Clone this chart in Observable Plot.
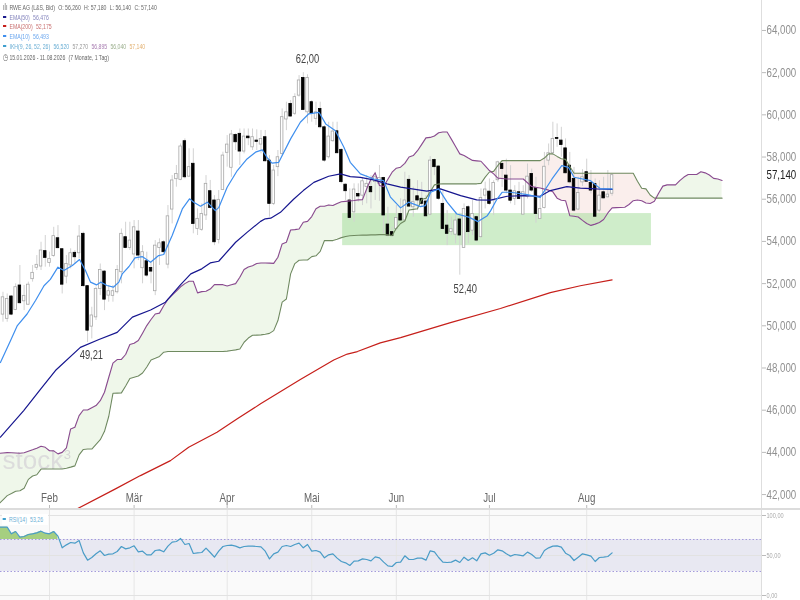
<!DOCTYPE html>
<html><head><meta charset="utf-8">
<script src="https://cdn.jsdelivr.net/npm/d3@7"></script>
<script src="https://cdn.jsdelivr.net/npm/@observablehq/plot@0.6"></script>
<style>
html,body{margin:0;padding:0;background:#fff;overflow:hidden}
#root{position:relative;width:800px;height:600px;overflow:hidden;filter:blur(0.3px)}
#root svg{position:absolute;left:0}
.row{position:absolute;left:3px;font:8px/10px "Liberation Sans",sans-serif;white-space:nowrap;color:#666;transform:scaleX(.645);transform-origin:0 0}
.row span{margin-right:5px}
.k{display:inline-block;width:5px;height:2px;margin:0 5px 2px 0;vertical-align:middle}
</style></head><body><div id="root"></div>
<script>
const firstCandle = -11;
const openP = [50.53,50.33,51.39,50.75,51.91,51.16,51.00,52.21,52.75,52.81,
53.54,52.98,53.31,54.15,53.63,52.33,52.86,53.46,53.44,54.36,
51.88,49.96,50.40,51.75,52.57,51.43,51.42,51.59,52.54,54.20,
53.69,53.38,54.47,52.73,53.06,52.74,51.64,53.69,53.96,52.90,
55.51,56.95,56.92,58.75,57.07,57.68,54.59,54.55,55.23,56.38,
55.94,54.07,56.44,58.20,57.49,59.05,59.10,58.26,58.97,58.46,
58.78,58.59,58.94,57.83,55.78,57.52,58.15,59.78,60.52,60.05,
60.91,61.75,60.12,60.60,59.81,60.28,59.41,57.99,58.75,59.22,
58.34,56.69,55.94,55.38,56.25,56.17,56.58,56.58,56.81,56.73,
57.01,54.80,54.44,54.59,55.30,54.99,56.92,55.62,56.14,56.02,
55.89,55.27,57.86,57.55,55.78,54.75,54.44,54.32,55.04,53.69,
55.62,54.51,55.15,54.20,56.17,56.36,55.94,56.90,57.67,57.12,
56.41,56.01,56.33,55.27,56.12,57.20,56.53,55.06,55.58,57.83,
58.18,58.90,58.78,58.41,57.59,56.96,55.51,56.80,57.28,56.77,
56.72,55.46,56.33,56.09,56.26];
const closeP = [51.35,51.27,50.53,51.83,51.07,51.42,51.95,52.51,52.89,53.57,
53.22,53.17,54.25,53.68,51.95,52.93,53.44,53.25,54.23,51.88,
49.77,50.49,51.75,52.65,51.24,51.64,51.64,52.65,54.36,53.69,
54.04,54.67,53.33,53.49,52.38,52.57,53.80,53.91,53.49,55.19,
56.89,57.20,58.50,57.04,57.52,54.83,55.07,55.30,56.73,55.59,
53.96,55.97,58.07,58.59,59.07,58.70,58.26,58.97,58.89,58.94,
58.72,58.86,57.80,55.78,57.36,57.99,59.89,60.12,59.92,60.84,
61.63,60.23,61.75,60.05,60.12,59.41,57.83,58.97,59.21,58.18,
56.81,56.38,55.11,56.46,56.13,56.85,56.73,56.33,57.04,57.01,
55.23,54.28,54.25,55.11,54.99,55.94,55.65,55.86,55.94,55.78,
55.19,57.83,57.52,56.02,54.59,54.36,54.58,54.99,54.28,55.54,
54.44,55.30,54.04,56.06,56.46,55.78,56.77,57.75,57.43,56.41,
55.93,56.38,56.01,56.33,57.07,56.41,55.30,55.54,57.54,58.18,
58.86,58.86,58.57,57.23,56.80,55.46,56.30,57.04,56.83,56.41,
55.17,56.17,56.04,56.22,57.14];
const highP = [51.59,51.51,51.43,51.99,52.86,51.91,52.07,52.86,53.33,53.96,
54.28,53.49,54.67,54.75,53.65,53.33,53.65,53.57,54.75,54.44,
51.91,50.88,51.83,52.93,52.62,51.91,51.91,52.86,54.59,54.91,
54.91,54.99,54.99,53.80,53.49,53.01,54.04,54.12,54.04,55.70,
57.12,57.60,58.62,58.86,58.39,58.39,55.54,55.78,57.12,56.89,
56.17,56.41,58.23,59.02,59.26,59.10,59.33,59.33,59.33,59.33,
59.29,59.26,59.26,58.07,57.60,58.31,60.28,60.60,60.68,61.00,
61.86,62.00,61.90,60.68,60.60,60.60,59.49,59.65,59.65,59.65,
58.39,56.73,56.49,56.73,56.73,57.01,57.12,57.12,57.28,57.60,
57.04,55.62,54.67,55.70,56.02,57.28,57.12,56.57,56.88,56.80,
56.17,58.02,57.91,57.60,56.38,55.46,55.15,55.38,55.34,55.78,
55.70,55.94,55.22,56.49,56.81,56.96,56.88,57.80,57.83,57.90,
57.59,56.64,56.80,56.64,57.67,57.43,57.04,56.09,58.22,58.62,
59.65,59.57,59.41,58.86,58.22,57.51,57.04,57.40,57.90,57.36,
56.96,56.88,57.04,57.36,57.18];
const lowP = [50.17,50.17,50.48,50.72,51.04,50.72,50.96,52.07,52.62,52.62,
52.78,52.78,53.25,53.65,51.51,51.99,52.70,52.93,53.17,51.83,
49.21,49.38,50.25,51.43,50.72,51.12,51.12,51.51,51.99,53.65,
53.57,52.70,53.09,51.99,52.30,51.99,51.43,52.86,53.41,52.70,
54.83,56.57,56.88,56.96,57.04,54.36,54.28,54.48,54.99,55.54,
53.80,53.88,56.41,57.52,57.04,58.31,57.60,58.15,58.54,58.31,
58.31,58.15,57.75,55.15,55.70,57.07,58.07,59.25,59.89,59.97,
60.84,60.20,59.57,59.65,59.50,59.33,57.75,57.91,58.70,58.15,
56.73,55.94,54.99,54.91,55.86,55.70,55.78,55.54,55.94,55.90,
54.36,54.20,54.20,54.51,54.99,54.99,55.62,55.15,55.46,55.62,
55.15,55.22,57.12,55.94,54.51,53.80,54.28,53.88,52.40,53.68,
53.88,54.28,53.96,54.17,55.54,55.70,55.22,56.80,56.56,56.25,
55.78,55.70,56.01,55.27,56.01,56.33,54.86,55.06,55.54,57.59,
58.07,58.46,57.99,57.20,56.72,55.38,55.46,56.60,56.80,56.25,
55.14,55.38,56.01,56.06,56.14];

const firstCloud = -12;
const spanA = [43.95,43.97,43.99,43.98,43.97,43.96,43.98,44.05,44.12,44.20,
44.29,44.24,44.08,44.07,43.93,44.00,44.21,45.11,45.19,45.74,
46.01,46.01,46.12,46.22,46.45,46.85,47.55,48.23,48.40,48.41,
48.64,49.11,49.17,49.30,49.65,50.01,50.30,50.56,50.60,50.95,
51.25,51.45,51.65,51.85,52.00,52.11,52.11,51.56,51.62,51.64,
51.74,51.95,51.95,51.95,51.89,51.95,52.00,52.30,52.67,52.79,
52.85,52.95,52.98,52.98,52.97,52.96,53.25,53.88,53.96,54.54,
54.56,54.59,54.91,54.95,55.18,55.55,55.67,55.67,55.73,55.70,
55.80,55.88,55.90,55.92,55.94,55.97,55.98,56.50,56.96,57.25,
56.65,56.60,56.95,57.28,57.47,57.52,57.70,58.00,58.07,58.30,
58.60,58.91,58.93,59.00,59.15,59.19,59.19,58.85,58.50,58.15,
58.07,57.95,57.84,57.82,57.80,57.58,57.36,57.20,57.00,56.98,
56.96,56.96,56.96,56.96,56.96,56.78,56.60,56.56,56.53,56.48,
56.43,56.35,56.05,55.95,55.93,55.22,55.19,55.16,55.00,54.85,
54.76,54.82,54.90,55.04,55.35,55.59,55.60,55.61,55.62,55.75,
55.93,55.96,55.93,55.82,55.80,55.90,56.28,56.62,56.68,56.68,
56.68,56.88,57.05,57.17,57.17,57.17,57.30,57.25,57.15,56.99,
56.96,56.89];
const spanB = [41.55,41.75,41.95,42.05,42.16,42.18,42.30,42.72,42.88,42.94,
43.21,43.21,43.21,43.21,43.21,43.21,43.25,43.30,43.36,43.88,
44.14,44.16,44.16,44.38,44.60,45.00,45.70,46.80,46.81,46.82,
47.15,47.50,47.56,47.62,47.76,48.05,48.38,48.46,48.55,48.75,
48.78,48.78,48.78,48.78,48.78,48.78,48.78,48.78,48.78,48.78,
48.78,48.78,48.78,48.78,48.80,48.83,48.86,48.90,49.22,49.42,
49.55,49.56,49.57,49.60,49.64,49.77,50.25,51.12,51.27,52.46,
52.95,53.11,53.12,53.12,53.28,53.32,53.53,54.04,54.04,54.04,
54.10,54.18,54.23,54.27,54.28,54.29,54.30,54.30,54.31,54.31,
54.32,54.32,54.31,54.28,54.62,54.85,54.97,55.49,55.52,55.55,
56.00,56.04,56.35,56.68,56.72,56.73,56.73,56.73,56.73,56.73,
56.73,56.73,56.73,56.73,56.75,57.05,57.29,57.32,57.60,57.83,
57.83,57.83,57.83,57.83,57.83,57.83,57.83,57.83,57.83,57.95,
58.15,58.15,58.03,57.92,57.89,57.55,57.23,57.23,57.23,57.23,
57.23,57.23,57.23,57.23,57.23,57.23,57.23,57.23,57.23,57.23,
57.23,56.85,56.52,56.49,56.20,56.05,56.05,56.05,56.05,56.05,
56.05,56.05,56.05,56.05,56.05,56.05,56.05,56.05,56.05,56.05,
56.05,56.05];

const ema10T = [-11.6,-9.2,-7.6,-5.3,-3.3,-1.3,0.2,2,3.4,5.4,7.1,8.5,9.7,11.1,12.1,13.6,15.1,16.4,17.2,18.8,20.2,21.9,23.9,25.8,27,29,31.4,33.1,34.1,35.7,37.3,39.2,40,42,44.4,46.7,48.7,50.3,51.5,52.6,54.2,57,59.3,61.3,63.7,65.3,67.6,69.6,71.1,73.5,76.7,79,80.6,83,84.9,87.7,88.9,90.1,92,94,96.3,99.1,101.3,103.5,104.3,105.8,107,109,112.9,116,118.8,121.1,122.7,124,127.9,130.3,133];
const ema10V = [48.26,49.3,50.01,50.56,51.2,51.9,52.2,52.78,52.62,52.86,53.14,52.62,52.07,51.94,52.07,51.91,51.83,52.07,52.46,52.81,53.22,53.28,53.01,53.33,53.38,54.28,55.54,56.02,55.86,55.67,55.86,55.46,55.6,56.57,57.36,57.91,58.23,58.34,57.96,57.71,57.75,58.86,59.65,60.05,60.12,59.57,59.25,58.46,57.75,57.2,56.96,56.88,56.1,55.59,55.86,55.65,55.7,56.33,56.49,55.86,55.3,55.15,54.94,55.22,55.46,56.01,56.33,56.33,56.22,56.09,56.96,57.59,57.51,57.04,56.88,56.49,56.49];
const ema50T = [-11.6,-6.1,-2.1,1.4,7.3,11.7,16,19.6,23.9,27.4,31,33.4,36,38,40,44,46.7,49.9,51,52.3,54.6,57.7,60,62.5,66,68.8,71.1,73.5,76.6,79.8,83,85.7,89.2,92.4,97.2,101,104.3,108.2,112,116,118.4,122.3,125.5,129.3,133];
const ema50V = [44.72,45.98,47,47.88,48.98,49.35,49.69,50.41,50.75,51.12,51.95,52.46,52.7,52.98,53.06,53.96,54.43,54.95,55.07,55.1,55.38,56,56.41,56.8,57.09,57.2,57.07,57.04,56.92,56.73,56.57,56.49,56.38,56.49,56.17,55.97,55.96,56.14,56.17,56.14,56.41,56.6,56.53,56.49,56.47];
const ema200T = [6.5,15.6,21.5,28.6,32.9,39.6,44.4,49.9,59.3,67.2,70.4,72.8,78.2,83,94.8,106.6,118.4,125.5,133];
const ema200V = [41.32,42.27,42.9,43.61,44.24,44.95,45.59,46.3,47.45,48.38,48.66,48.78,49.19,49.44,50.15,50.82,51.57,51.9,52.18];

const firstRsi = -12;
const rsiV = [85.4,85.4,85.4,77.1,80,72.9,73.75,76.25,77.1,78.3,80.4,77.9,77.1,80,74.2,59.6,63.3,66.25,65.4,68.75,
53.3,44.2,47.5,52.1,55.8,50,51.7,52.1,55,61.25,58.3,59.6,62.1,54.6,55.4,50.8,50.8,56.25,57,54.6,
61.7,66.7,67.5,71.25,63.75,65,52.5,53.3,53.75,59.2,53.75,47.9,55.4,61.25,62.5,62.9,61.7,59.6,61.25,61.7,
61.7,61.25,60.8,55.4,45.8,52.1,54.2,61.25,62.5,61.25,63.75,65.4,59.6,63.75,55.4,56.25,54.2,47.1,50.8,52.1,
46.7,42.5,40.8,37.5,42.9,43.3,45.8,45,43.3,48.3,47.1,41.7,37,36.25,41.25,41.7,49.6,45,45,46.7,
46.7,44.2,55.8,54.6,47.5,41.7,41.25,41.7,44.2,41.25,47.9,43.75,47.1,43.3,52.1,53.3,50.4,52.9,57.1,55.8,
52.1,49.2,51.25,50.4,49.6,54.2,51.25,46.7,47.1,56.25,59.6,61.7,62.1,60.4,52.9,50,43.75,47.9,52.1,50.8,
49.2,42.5,47.5,47.9,48.75,53.26];

const monthPos = [0,20,42,62,82,104,127];
const monthLabels = ["Feb","Mär","Apr","Mai","Jun","Jul","Aug"];
const priceTicks = [42,44,46,48,50,52,54,56,58,60,62,64];
const rsiTicks = [0,50,100];
const zoneLow = 53.80, zoneHigh = 55.32, zoneStart = 69.3, zoneEnd = 142.3;
const lastPrice = 57.14;
const peaks = [{i:61,p:62.66,t:"62,00"},{i:9.9,p:48.6,t:"49,21"},{i:98.3,p:51.75,t:"52,40"}];

const xDom = [-11.584,168.322];
const font = '"Liberation Sans",sans-serif';
const comma = (d,n)=>d.toFixed(n).replace(".",",");

const candles = openP.map((o,k)=>({i:firstCandle+k,o,c:closeP[k],h:highP[k],l:lowP[k],up:closeP[k]>=o}));
const cloud = spanA.map((a,k)=>({i:firstCloud+k,a,b:spanB[k]}));
const rsi = rsiV.map((v,k)=>({i:firstRsi+k,v}));
const zip=(t,v)=>t.map((x,k)=>({i:x,v:v[k]}));

const main = Plot.plot({
  width:800,height:508,marginLeft:0,marginRight:39,marginTop:0,marginBottom:0,
  style:{fontFamily:font,fontSize:"12.5px",background:"transparent",top:"0px"},
  x:{domain:xDom,range:[0,761],axis:null},
  y:{domain:[41.34,65.42],range:[508,0],axis:null},
  marks:[
    Plot.areaY(cloud,{x:"i",y1:"b",y2:d=>Math.max(d.a,d.b),fill:"#eff7ea"}),
    Plot.areaY(cloud,{x:"i",y1:"b",y2:d=>Math.min(d.a,d.b),fill:"#faeeec"}),
    Plot.text(["stock"],{x:()=>-11.1,y:()=>43.6,text:d=>d,textAnchor:"start",fill:"#dcdcdc",fontSize:26,className:"wm"}),
    Plot.text(["3"],{x:()=>4.2,y:()=>43.88,text:d=>d,fill:"#d6d6d6",fontSize:13,className:"wm"}),
    Plot.rect([0],{x1:()=>zoneStart,x2:()=>zoneEnd,y1:()=>zoneLow,y2:()=>zoneHigh,fill:"#9fdc95",fillOpacity:0.5}),
    Plot.ruleX(candles,{x:"i",y1:"l",y2:"h",stroke:"#d2d2d2",strokeWidth:1}),
    Plot.rect(candles,{x1:d=>d.i-0.3,x2:d=>d.i+0.3,y1:"o",y2:"c",fill:d=>d.up?"#fff":"#000",stroke:d=>d.up?"#a8a8a8":"#000",strokeWidth:0.8}),
    Plot.line(cloud,{x:"i",y:"b",stroke:"#6f8a60",strokeWidth:1.1}),
    Plot.line(cloud,{x:"i",y:"a",stroke:"#8a4a90",strokeWidth:1.1}),
    Plot.line(zip(ema200T,ema200V),{x:"i",y:"v",stroke:"#c61f1a",strokeWidth:1.2}),
    Plot.line(zip(ema50T,ema50V),{x:"i",y:"v",stroke:"#16168f",strokeWidth:1.2}),
    Plot.line(zip(ema10T,ema10V),{x:"i",y:"v",stroke:"#3f8fee",strokeWidth:1.2}),
    Plot.text(peaks,{x:"i",y:"p",text:"t",fill:"#444",fontSize:12}),
    Plot.ruleX([xDom[1]],{stroke:"#dedede"}),
    Plot.axisY(priceTicks,{anchor:"right",tickSize:4,tickPadding:1,tickFormat:d=>comma(d,3),label:null,stroke:"#bbb",fill:"#909090",fontSize:12.5}),
    Plot.axisX(monthPos,{anchor:"bottom",tickSize:-3,tickPadding:-12,tickFormat:d=>monthLabels[monthPos.indexOf(d)],label:null,stroke:"#bbb",fill:"#666",fontSize:12.5}),
    Plot.text([lastPrice],{x:()=>xDom[1],y:d=>d,text:d=>comma(d,3),dx:5,textAnchor:"start",fill:"#222",fontSize:12.5})
  ]
});
const sub = Plot.plot({
  width:800,height:90,marginLeft:0,marginRight:39,marginTop:0,marginBottom:0,
  style:{fontFamily:font,fontSize:"8px",background:"transparent",top:"510px"},
  x:{domain:xDom,range:[0,761],axis:null},
  y:{domain:[-6.25,106.25],range:[90,0],axis:null},
  marks:[
    Plot.rect([0],{x1:()=>xDom[0],x2:()=>xDom[1],y1:()=>-6.25,y2:()=>106.25,fill:"#fafafa"}),
    Plot.rect([0],{x1:()=>xDom[0],x2:()=>xDom[1],y1:()=>30,y2:()=>70,fill:"#e8e8f2"}),
    Plot.ruleX(monthPos,{stroke:"#e6e6e6"}),
    Plot.ruleY(rsiTicks,{stroke:"#e2e2e2"}),
    Plot.ruleY([30,70],{stroke:"#a49bdc",strokeDasharray:"1.5,2"}),
    Plot.areaY(rsi.filter(d=>d.i<3),{x:"i",y1:()=>70,y2:"v",fill:"#a6cf80"}),
    Plot.line(rsi,{x:"i",y:"v",stroke:"#4a9cc7",strokeWidth:1.2}),
    Plot.ruleX([xDom[1]],{stroke:"#dedede"}),
    Plot.axisY(rsiTicks,{anchor:"right",tickSize:4,tickPadding:1,tickFormat:d=>comma(d,2),label:null,stroke:"#bbb",fill:"#aaa",fontSize:8})
  ]
});
const root = document.getElementById("root");
const sep = document.createElement("div");
sep.style.cssText="position:absolute;left:0;top:508px;width:800px;height:2px;background:#dcdcdc";
root.append(sub,sep,main);
// The reference uses a condensed face: narrow every label with a horizontal scale.
const narrow=(svg,f)=>svg.querySelectorAll("text").forEach(t=>{
  if(t.closest(".wm")) return;
  t.setAttribute("transform",(t.getAttribute("transform")||"")+` scale(${f},1)`);
});
narrow(main,0.78);narrow(sub,0.7);

const legendRows = [
 {top:2,parts:[["RWE AG (L&S, Bid)","#666"],["O: 56,260","#666"],["H: 57,180","#666"],["L: 56,140","#666"],["C: 57,140","#666"]],icon:"ılı"},
 {top:13,key:"#1a1a8c",parts:[["EMA(50)","#8585bd"],["56,476","#8585bd"]]},
 {top:22,key:"#c61f1a",parts:[["EMA(200)","#c97070"],["52,175","#c97070"]]},
 {top:32,key:"#3f8fee",parts:[["EMA(10)","#6aa6ee"],["56,493","#6aa6ee"]]},
 {top:42,key:"#3f9fce",parts:[["IKH(9, 26, 52, 26)","#6aaed4"],["56,520","#6aaed4"],["57,270","#999"],["56,895","#a77bb0"],["56,040","#9aae8c"],["57,140","#e2b070"]]},
 {top:52,parts:[["15.01.2026 - 11.08.2026","#666"],["(7 Monate, 1 Tag)","#666"]],icon:"◷"}
];
for(const r of legendRows){
  const d=document.createElement("div");d.className="row";d.style.top=r.top+"px";
  const k=document.createElement("i");k.className="k";
  if(r.key){k.style.background=r.key;}
  else{k.textContent=r.icon;k.style.cssText="display:inline-block;width:10px;margin:0;height:auto;font-style:normal;font-size:9px;vertical-align:baseline";}
  d.append(k);
  for(const [t,c] of r.parts){const s=document.createElement("span");s.textContent=t;s.style.color=c;d.append(s);}
  root.append(d);
}
const rl=document.createElement("div");rl.className="row";rl.style.cssText="top:514px;left:2px;background:#fff;padding:0 3px 0 1px;height:11px;line-height:11px";
const k=document.createElement("i");k.className="k";k.style.background="#3f9fce";rl.append(k);
for(const t of ["RSI(14)","53,26"]){const s=document.createElement("span");s.textContent=t;s.style.color="#6aaed4";rl.append(s);}
root.append(rl);
</script></body></html>
